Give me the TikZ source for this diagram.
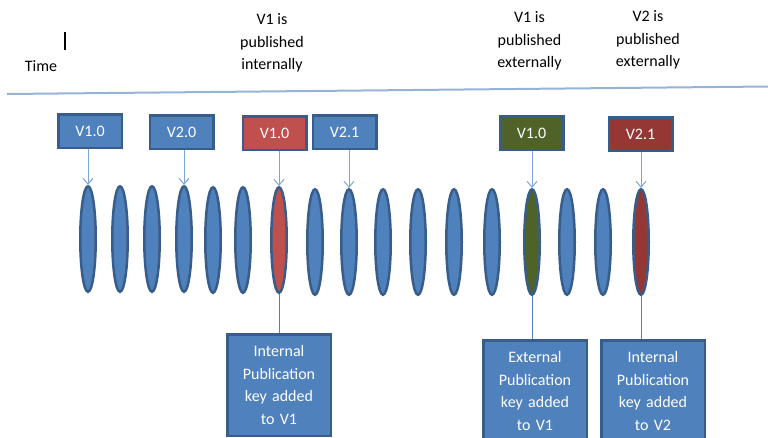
\documentclass[tikz,border=0pt]{standalone}
\usepackage{fontspec}
\setmainfont{Carlito}
\usetikzlibrary{shapes.geometric,arrows.meta}
\definecolor{boxblue}{HTML}{4F81BD}
\definecolor{boxedge}{HTML}{385D8A}
\definecolor{boxred}{HTML}{C0504D}
\definecolor{boxolive}{HTML}{4F6228}
\definecolor{boxmaroon}{HTML}{953735}
\definecolor{arrowblue}{HTML}{7EA6D9}
\definecolor{ruleblue}{HTML}{95B3D7}
\begin{document}
\begin{tikzpicture}[x=1pt,y=-1pt,
    font=\fontsize{16}{22.5}\selectfont,
    version/.style={draw=boxedge,line width=2.5pt,fill=#1,text=white,
      minimum width=63.5pt,minimum height=33.5pt,inner sep=0pt},
    build/.style={ellipse,draw=boxedge,line width=2.5pt,fill=#1,
      minimum width=15.5pt,minimum height=105.5pt,inner sep=0pt},
    keybox/.style={draw=boxedge,line width=2.5pt,fill=boxblue,text=white,
      text width=100pt,align=center,minimum width=103.5pt,
      minimum height=101.5pt,inner sep=0pt,anchor=north},
    note/.style={align=center,inner sep=0pt},
    tip/.style={draw=arrowblue,line width=1pt,
      -{Straight Barb[length=6pt,width=10pt]}},
    stem/.style={draw=boxblue,line width=1pt}]
  \useasboundingbox (0,0) rectangle (768,437);
  \clip (0,0) rectangle (768,437);

  \node (time) at (41,66) {Time};
  \draw[line width=1.2pt] (65,32) -- (65,50);
  \node[note] (pubInt) at (272,43) {V1 is\\published\\internally};
  \node[note] (pubExt) at (529.5,41) {V1 is\\published\\externally};
  \node[note] (pubTwo) at (648,40) {V2 is\\published\\externally};
  \draw[ruleblue,line width=2pt] (7,94) -- (768,86.5);

  \foreach \x/\y/\c [count=\i] in {88/239/boxblue,120/239/boxblue,
      152/239/boxblue,184/239/boxblue,213/240/boxblue,243/240/boxblue,
      279/240/boxred,315/242/boxblue,349/242/boxblue,383/242/boxblue,
      418/242/boxblue,454/242/boxblue,492/242/boxblue,532/242/boxolive,
      567/242/boxblue,603/242/boxblue,641/242/boxmaroon}
    \node[build=\c] (e\i) at (\x,\y) {};

  \node[version=boxblue] (vOne) at (90,131) {V1.0};
  \node[version=boxblue] (vTwo) at (181.5,132) {V2.0};
  \node[version=boxred] (vOneInt) at (274.5,133) {V1.0};
  \node[version=boxblue] (vTwoOne) at (344.5,132) {V2.1};
  \node[version=boxolive] (vOneExt) at (531.5,133) {V1.0};
  \node[version=boxmaroon] (vTwoExt) at (640.5,134) {V2.1};

  \draw[tip] (vOne.south -| e1.north) -- (e1.north);
  \draw[tip] (vTwo.south -| e4.north) -- (e4.north);
  \draw[tip] (vOneInt.south -| e7.north) -- (e7.north);
  \draw[tip] (vTwoOne.south -| e9.north) -- (e9.north);
  \draw[tip] (vOneExt.south -| e14.north) -- (e14.north);
  \draw[tip] (vTwoExt.south -| e17.north) -- (e17.north);

  \node[keybox] (keyInt) at (279,333) {Internal\\Publication\\key added\\to V1};
  \node[keybox] (keyExt) at (535,339) {External\\Publication\\key added\\to V1};
  \node[keybox] (keyTwo) at (653,339) {Internal\\Publication\\key added\\to V2};

  \draw[stem] (e7.south) -- (e7.south |- keyInt.north);
  \draw[stem] (e14.south) -- (e14.south |- keyExt.north);
  \draw[stem] (e17.south) -- (e17.south |- keyTwo.north);
\end{tikzpicture}
\end{document}
